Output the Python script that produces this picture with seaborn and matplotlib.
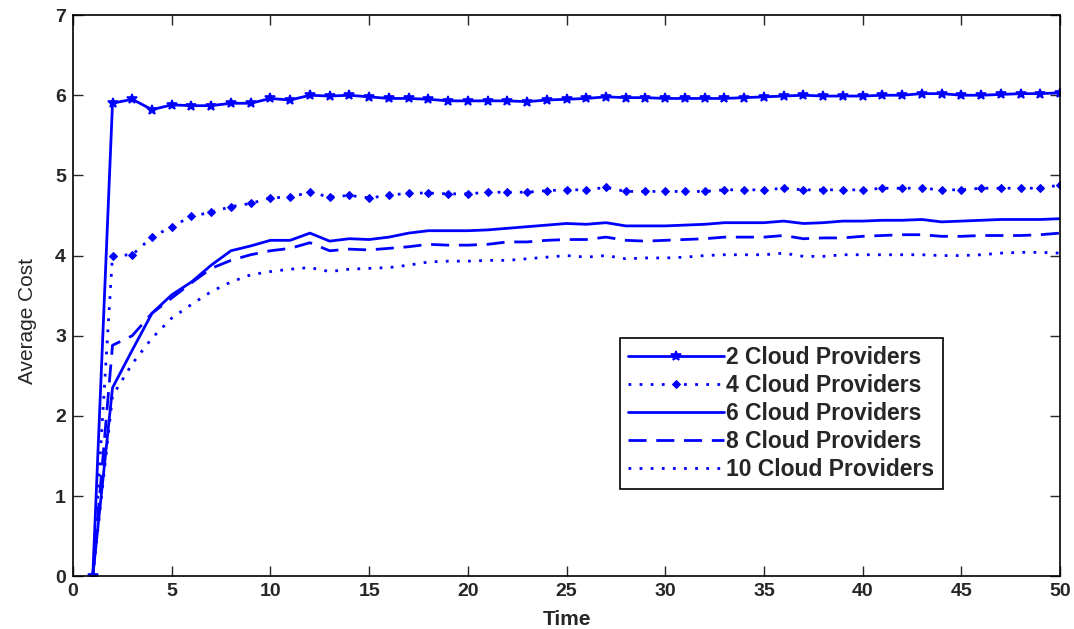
import matplotlib
matplotlib.use("Agg")
import matplotlib.pyplot as plt
import seaborn as sns

# data
time = list(range(1, 51))

cp2 = [0, 5.90, 5.95, 5.82, 5.88, 5.87, 5.87, 5.90, 5.90, 5.96,
       5.94, 6.00, 5.99, 6.00, 5.98, 5.96, 5.96, 5.95, 5.93, 5.93,
       5.93, 5.93, 5.92, 5.94, 5.95, 5.96, 5.98, 5.97, 5.97, 5.96,
       5.96, 5.96, 5.96, 5.97, 5.98, 5.99, 6.00, 5.99, 5.99, 5.99,
       6.00, 6.00, 6.02, 6.02, 6.00, 6.00, 6.01, 6.02, 6.02, 6.03]
cp4 = [0, 4.00, 4.01, 4.23, 4.36, 4.49, 4.54, 4.61, 4.65, 4.72,
       4.73, 4.79, 4.73, 4.75, 4.72, 4.75, 4.78, 4.78, 4.77, 4.77,
       4.79, 4.79, 4.79, 4.81, 4.82, 4.82, 4.85, 4.80, 4.80, 4.80,
       4.80, 4.80, 4.82, 4.82, 4.82, 4.84, 4.82, 4.82, 4.82, 4.82,
       4.84, 4.84, 4.84, 4.82, 4.82, 4.84, 4.84, 4.84, 4.84, 4.88]
cp6 = [0, 2.35, 2.82, 3.28, 3.51, 3.67, 3.88, 4.06, 4.12, 4.19,
       4.19, 4.28, 4.18, 4.21, 4.20, 4.23, 4.28, 4.31, 4.31, 4.31,
       4.32, 4.34, 4.36, 4.38, 4.40, 4.39, 4.41, 4.37, 4.37, 4.37,
       4.38, 4.39, 4.41, 4.41, 4.41, 4.43, 4.40, 4.41, 4.43, 4.43,
       4.44, 4.44, 4.45, 4.42, 4.43, 4.44, 4.45, 4.45, 4.45, 4.46]
cp8 = [0, 2.88, 3.00, 3.28, 3.47, 3.66, 3.84, 3.94, 4.01, 4.06,
       4.09, 4.16, 4.06, 4.08, 4.07, 4.09, 4.11, 4.14, 4.13, 4.13,
       4.14, 4.17, 4.17, 4.19, 4.20, 4.20, 4.23, 4.19, 4.18, 4.19,
       4.20, 4.21, 4.23, 4.23, 4.23, 4.25, 4.21, 4.22, 4.22, 4.24,
       4.25, 4.26, 4.26, 4.24, 4.24, 4.25, 4.25, 4.25, 4.26, 4.28]
cp10 = [0, 2.25, 2.65, 2.97, 3.22, 3.39, 3.55, 3.67, 3.76, 3.80,
        3.83, 3.85, 3.80, 3.83, 3.84, 3.85, 3.88, 3.92, 3.93, 3.93,
        3.94, 3.94, 3.96, 3.98, 4.00, 3.98, 4.00, 3.96, 3.97, 3.97,
        3.98, 4.00, 4.01, 4.01, 4.01, 4.03, 3.99, 3.99, 4.01, 4.01,
        4.01, 4.01, 4.01, 4.00, 4.00, 4.01, 4.03, 4.04, 4.04, 4.03]

labels = ["2 Cloud Providers", "4 Cloud Providers", "6 Cloud Providers",
          "8 Cloud Providers", "10 Cloud Providers"]

sns.set_style("ticks")
plt.rcParams['font.family'] = ['Liberation Sans', 'DejaVu Sans']

fig = plt.figure(figsize=(10.74, 6.29), dpi=100)
ax = fig.add_axes([0.068, 0.084, 0.919, 0.892])

blue = (0, 0, 1)
styles = [
    dict(linestyle='-', marker='*', markersize=7, markeredgewidth=1.2),
    dict(linestyle=(0, (1, 3)), marker='D', markersize=4),
    dict(linestyle='-'),
    dict(linestyle=(0, (6.5, 3.5))),
    dict(linestyle=(0, (1, 3))),
]
for series, lab, st in zip([cp2, cp4, cp6, cp8, cp10], labels, styles):
    sns.lineplot(x=time, y=series, ax=ax, color=blue, linewidth=2,
                 label=lab, markeredgecolor=blue, **st)

ax.set_xlim(0, 50)
ax.set_ylim(0, 7)
ax.set_xticks(range(0, 51, 5))
ax.set_yticks(range(0, 8))
ax.tick_params(direction='in', top=True, right=True, length=7, width=1,
               labelsize=14, pad=5)
for t in ax.get_xticklabels() + ax.get_yticklabels():
    t.set_fontweight('bold')
for s in ax.spines.values():
    s.set_linewidth(1.2)
    s.set_color('black')

ax.set_xlabel("Time", fontsize=15, fontweight='bold', labelpad=7)
ax.set_ylabel("Average Cost", fontsize=15)
ax.yaxis.set_label_coords(-0.037, 0.455)

leg = ax.legend(loc='upper left', bbox_to_anchor=(0.554, 0.424),
                borderaxespad=0, fancybox=False, framealpha=1,
                edgecolor='black', handlelength=4.2, handletextpad=0.1,
                labelspacing=0.22, borderpad=0.35,
                prop={'weight': 'bold', 'size': 16.5})
leg.get_frame().set_linewidth(1.2)

fig.savefig("out.png", dpi=100)
